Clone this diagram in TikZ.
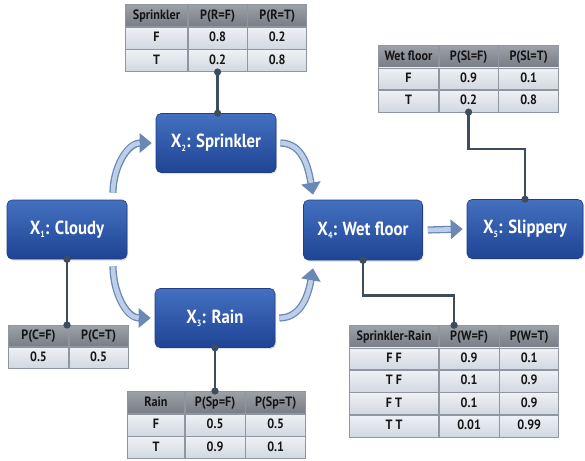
\documentclass[tikz,border=0pt]{standalone}
\usepackage{fontspec}
\setmainfont{PT Sans}
\newfontfamily\nodefont[FakeStretch=0.88, UprightFont={* Bold}]{PT Sans}
\newfontfamily\tabfont[FakeStretch=0.9, UprightFont={* Bold}]{PT Sans}
\newcommand\vsub[1]{\raisebox{-0.35ex}{\fontsize{9}{9}\selectfont #1}}
\usetikzlibrary{matrix,arrows.meta,shadows}
\definecolor{nodetop}{HTML}{4470C0}
\definecolor{nodebot}{HTML}{1F4494}
\definecolor{nodeedge}{HTML}{1E3F85}
\definecolor{celltop}{HTML}{EEF1F5}
\definecolor{cellbot}{HTML}{D2D8E1}
\definecolor{headtop}{HTML}{9DA1A8}
\definecolor{headbot}{HTML}{787D86}
\definecolor{celledge}{HTML}{8F96A0}
\definecolor{tabtext}{HTML}{151515}
\definecolor{linkcol}{HTML}{3E4D5C}
\definecolor{flowout}{HTML}{6A87B5}
\definecolor{flowin}{HTML}{BCCEE8}
\tikzset{
  var/.style={rounded corners=5pt, minimum width=120pt, minimum height=59pt,
    top color=nodetop, bottom color=nodebot, draw=nodeedge, line width=0.6pt,
    text=white, font=\nodefont\fontsize{19}{21}\selectfont,
    drop shadow={opacity=0.25, shadow xshift=1pt, shadow yshift=-1.5pt}},
  cell/.style={draw=celledge, line width=0.6pt, top color=celltop, bottom color=cellbot,
    minimum height=22pt, inner sep=0pt, text height=10pt, text depth=2.5pt,
    font=\tabfont\fontsize{13.5}{15}\selectfont, text=tabtext},
  hcell/.style={top color=headtop, bottom color=headbot},
  tbl/.style={matrix of nodes, inner sep=0pt, column sep=0pt, row sep=0pt,
    anchor=north west, nodes={cell}, row 1/.style={nodes={hcell}}},
  link/.style={draw=linkcol, line width=2.7pt,
    {Circle[length=7pt]}-{Circle[length=7pt]}, shorten <=-3.5pt, shorten >=-3.5pt},
  flow/.style={draw=flowin, line width=4.6pt, shorten >=12pt,
    preaction={draw=flowout, line width=7.2pt, shorten >=0pt,
      -{Triangle[length=12pt,width=19pt]}}}
}
\begin{document}
\begin{tikzpicture}
\useasboundingbox (0,0) rectangle (585pt,-460pt);
\begin{scope}[x=1pt,y=1pt]
% variable nodes
\node[var] (x1) at (67,-229.5) {X\vsub{1}: Cloudy};
\node[var] (x2) at (216,-143) {X\vsub{2}: Sprinkler};
\node[var] (x3) at (215,-318) {X\vsub{3}: Rain};
\node[var, minimum width=119pt, minimum height=60pt] (x4) at (363,-230) {X\vsub{4}: Wet floor};
\node[var, minimum width=116pt] (x5) at (525,-229) {X\vsub{5}: Slippery};

% tables
\matrix (t2) [tbl, column 1/.style={nodes={minimum width=62pt}},
  column 2/.style={nodes={minimum width=59pt}}, column 3/.style={nodes={minimum width=59pt}}]
  at (125,-4) {
  Sprinkler & P(R=F) & P(R=T) \\
  F & 0.8 & 0.2 \\
  T & 0.2 & 0.8 \\
};
\matrix (t5) [tbl, column 1/.style={nodes={minimum width=60pt}},
  column 2/.style={nodes={minimum width=59pt}}, column 3/.style={nodes={minimum width=60pt}},
  nodes={minimum height=21.7pt}]
  at (378,-45) {
  Wet floor & P(Sl=F) & P(Sl=T) \\
  F & 0.9 & 0.1 \\
  T & 0.2 & 0.8 \\
};
\matrix (t1) [tbl, column 1/.style={nodes={minimum width=60pt}},
  column 2/.style={nodes={minimum width=59pt}}, nodes={minimum height=21pt}]
  at (8,-325) {
  P(C=F) & P(C=T) \\
  0.5 & 0.5 \\
};
\matrix (t3) [tbl, column 1/.style={nodes={minimum width=57pt}},
  column 2/.style={nodes={minimum width=60pt}}, column 3/.style={nodes={minimum width=60pt}}]
  at (127,-391) {
  Rain & P(Sp=F) & P(Sp=T) \\
  F & 0.5 & 0.5 \\
  T & 0.9 & 0.1 \\
};
\matrix (t4) [tbl, column 1/.style={nodes={minimum width=89pt}},
  column 2/.style={nodes={minimum width=60pt}}, column 3/.style={nodes={minimum width=59pt}},
  nodes={minimum height=21.8pt}]
  at (349,-325) {
  Sprinkler-Rain & P(W=F) & P(W=T) \\
  F F & 0.9 & 0.1 \\
  T F & 0.1 & 0.9 \\
  F T & 0.1 & 0.9 \\
  T T & 0.01 & 0.99 \\
};

% table links
\draw[link] (t2-3-2.south) -- (t2-3-2.south |- x2.north);
\draw[link] (x1.south) -- (x1.south |- t1.north);
\draw[link] (x3.south) -- (x3.south |- t3.north);
\draw[link] (t5-3-2.south) -- ++(0,-37) -| (x5.north);
\draw[link] (x4.south) -- ++(0,-35) -| ([xshift=-15pt]t4-1-2.north);

% flow arrows
\draw[flow] ([xshift=46pt,yshift=7pt]x1.north) to[out=90,in=180] ([xshift=-4pt]x2.west);
\draw[flow] ([xshift=46pt,yshift=-7pt]x1.south) to[out=-90,in=180] ([xshift=-4pt]x3.west);
\draw[flow] ([xshift=4pt]x2.east) to[out=0,in=100] ([xshift=-50pt,yshift=5pt]x4.north);
\draw[flow] ([xshift=4pt]x3.east) to[out=0,in=-100] ([xshift=-50pt,yshift=-8pt]x4.south);
\draw[flow] ([xshift=5pt]x4.east) -- ([xshift=-4pt]x5.west);
\end{scope}
\end{tikzpicture}
\end{document}
